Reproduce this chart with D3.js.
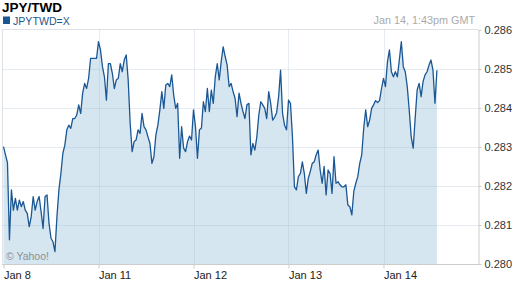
<!DOCTYPE html>
<html>
<head>
<meta charset="utf-8">
<script src="https://cdn.jsdelivr.net/npm/d3@7"></script>
<style>
  body { margin: 0; background: #fff; }
  svg { display: block; font-family: "Liberation Sans", Arial, sans-serif; }
</style>
</head>
<body>
<div id="chart"></div>
<script>
// JPY/TWD intraday quotes, one every 30 minutes of trading time from Jan 8
const rate = [
  0.28301, 0.28280, 0.28260, 0.28062, 0.28190, 0.28138, 0.28168, 0.28138, 0.28164, 0.28147,
  0.28160, 0.28138, 0.28130, 0.28096, 0.28121, 0.28173, 0.28138, 0.28160, 0.28173, 0.28134,
  0.28091, 0.28173, 0.28177, 0.28104, 0.28066, 0.28057, 0.28032, 0.28121, 0.28190, 0.28232,
  0.28284, 0.28305, 0.28344, 0.28356, 0.28348, 0.28373, 0.28373, 0.28382, 0.28408, 0.28386,
  0.28438, 0.28463, 0.28450, 0.28476, 0.28527, 0.28527, 0.28527, 0.28527, 0.28570, 0.28549,
  0.28506, 0.28480, 0.28420, 0.28514, 0.28514, 0.28489, 0.28450, 0.28472, 0.28476, 0.28514,
  0.28493, 0.28523, 0.28536, 0.28472, 0.28361, 0.28288, 0.28314, 0.28318, 0.28344, 0.28335,
  0.28386, 0.28352, 0.28344, 0.28326, 0.28309, 0.28258, 0.28275, 0.28331, 0.28356, 0.28395,
  0.28442, 0.28399, 0.28459, 0.28463, 0.28455, 0.28485, 0.28433, 0.28399, 0.28412, 0.28271,
  0.28352, 0.28297, 0.28288, 0.28314, 0.28328, 0.28318, 0.28395, 0.28352, 0.28271, 0.28344,
  0.28348, 0.28416, 0.28391, 0.28450, 0.28391, 0.28446, 0.28412, 0.28480, 0.28514, 0.28472,
  0.28519, 0.28557, 0.28532, 0.28510, 0.28455, 0.28463, 0.28442, 0.28425, 0.28378, 0.28438,
  0.28412, 0.28391, 0.28373, 0.28408, 0.28412, 0.28280, 0.28309, 0.28292, 0.28326, 0.28382,
  0.28416, 0.28408, 0.28399, 0.28373, 0.28442, 0.28412, 0.28369, 0.28376, 0.28388, 0.28429,
  0.28497, 0.28386, 0.28356, 0.28344, 0.28420, 0.28412, 0.28326, 0.28198, 0.28190, 0.28224,
  0.28232, 0.28262, 0.28232, 0.28181, 0.28220, 0.28237, 0.28258, 0.28262, 0.28280, 0.28292,
  0.28241, 0.28207, 0.28250, 0.28177, 0.28241, 0.28232, 0.28181, 0.28275, 0.28207, 0.28211,
  0.28203, 0.28198, 0.28198, 0.28203, 0.28151, 0.28147, 0.28126, 0.28186, 0.28207, 0.28224,
  0.28258, 0.28280, 0.28348, 0.28395, 0.28352, 0.28369, 0.28399, 0.28408, 0.28419, 0.28414,
  0.28419, 0.28450, 0.28476, 0.28455, 0.28519, 0.28549, 0.28493, 0.28480, 0.28493, 0.28480,
  0.28523, 0.28570, 0.28506, 0.28493, 0.28455, 0.28395, 0.28326, 0.28297, 0.28373, 0.28446,
  0.28463, 0.28429, 0.28468, 0.28485, 0.28493, 0.28510, 0.28523, 0.28497, 0.28412, 0.28497
];
const stepDays = 1 / 48; // 30 minutes

const dayTicks = [0, 1, 2, 3, 4];
const dayLabels = ["Jan 8", "Jan 11", "Jan 12", "Jan 13", "Jan 14"];
const rateTicks = [0.280, 0.281, 0.282, 0.283, 0.284, 0.285, 0.286];

const data = rate.map((v, i) => ({ t: i * stepDays, v: v }));

const W = 512, H = 288;
const plotL = 3.5, plotR = 478.5, plotT = 30, plotB = 264;

const svg = d3.select("#chart").append("svg")
  .attr("width", W).attr("height", H);

const x = d3.scaleLinear().domain([0, 5]).range([plotL, plotR]);
const y = d3.scaleLinear().domain([0.280, 0.286]).range([plotB, plotT]);

// title + legend
svg.append("text").attr("x", 2).attr("y", 12)
  .style("font-size", "13.5px").style("font-weight", "bold").attr("fill", "#000")
  .text("JPY/TWD");
svg.append("rect").attr("x", 3).attr("y", 16.5).attr("width", 7).attr("height", 7.5)
  .attr("fill", "#1b5791");
svg.append("text").attr("x", 13).attr("y", 24.5)
  .style("font-size", "10.6px").attr("fill", "#1b5791")
  .text("JPYTWD=X");
svg.append("text").attr("x", 475).attr("y", 24)
  .attr("text-anchor", "end")
  .style("font-size", "10.8px").attr("fill", "#aaa")
  .text("Jan 14, 1:43pm GMT");

// frame
svg.append("line").attr("x1", 2.5).attr("x2", plotR).attr("y1", 29.5).attr("y2", 29.5)
  .attr("stroke", "#dfe2e6");
svg.append("line").attr("x1", 2.5).attr("x2", 2.5).attr("y1", 29.5).attr("y2", plotB)
  .attr("stroke", "#dfe2e6");

// area
svg.append("path").datum(data)
  .attr("fill", "#d6e6f1")
  .attr("d", d3.area()
    .x(d => x(d.t)).y0(plotB).y1(d => y(d.v)));

// grid
const grid = svg.append("g").attr("stroke", "#a0b4cc").attr("stroke-opacity", 0.26);
grid.selectAll(".h").data(rateTicks.slice(1, -1)).enter().append("line")
  .attr("x1", 2.5).attr("x2", plotR)
  .attr("y1", d => Math.round(y(d)) + 0.5).attr("y2", d => Math.round(y(d)) + 0.5);
grid.selectAll(".v").data(dayTicks.slice(1)).enter().append("line")
  .attr("y1", 29.5).attr("y2", plotB)
  .attr("x1", d => Math.round(x(d)) + 0.5).attr("x2", d => Math.round(x(d)) + 0.5);

// line
svg.append("path").datum(data)
  .attr("fill", "none")
  .attr("stroke", "#1a5794")
  .attr("stroke-width", 1.3)
  .attr("stroke-linejoin", "round")
  .attr("d", d3.line()
    .x(d => x(d.t)).y(d => y(d.v)));

// axes
const xAxis = svg.append("g").attr("transform", "translate(0," + (plotB + 0.5) + ")")
  .call(d3.axisBottom(x).tickValues(dayTicks)
    .tickFormat((d, i) => dayLabels[i]).tickSize(4).tickSizeOuter(0));
xAxis.select(".domain").attr("stroke", "#ccc").attr("d", "M2,0H" + plotR);
xAxis.selectAll(".tick line").attr("stroke", "#ccc");
xAxis.selectAll(".tick text")
  .attr("text-anchor", "start").attr("x", 0).attr("y", 7)
  .style("font-size", "11px").style("font-family", "Liberation Sans, Arial, sans-serif")
  .attr("fill", "#222");

const yAxis = svg.append("g").attr("transform", "translate(" + plotR + ",0)")
  .call(d3.axisRight(y).tickValues(rateTicks).tickFormat(d3.format(".3f"))
    .tickSize(3).tickPadding(3).tickSizeOuter(0));
yAxis.select(".domain").attr("stroke", "#ccc");
yAxis.selectAll(".tick line").attr("stroke", "#ccc");
yAxis.selectAll(".tick text")
  .style("font-size", "11px").style("font-family", "Liberation Sans, Arial, sans-serif")
  .attr("fill", "#333");

svg.append("text").attr("x", 6).attr("y", 260)
  .style("font-size", "10.5px").attr("fill", "#8a8f96")
  .text("\u00a9 Yahoo!");
</script>
</body>
</html>
